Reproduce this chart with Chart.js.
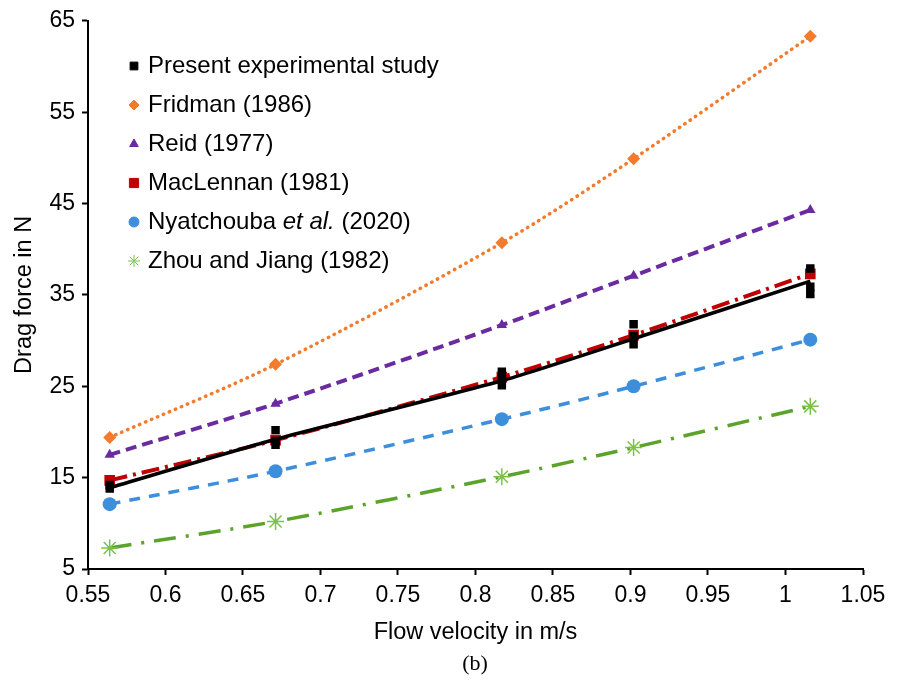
<!DOCTYPE html>
<html>
<head>
<meta charset="utf-8">
<script src="https://cdn.jsdelivr.net/npm/chart.js@4.4.1/dist/chart.umd.min.js"></script>
<style>
  html, body { margin: 0; padding: 0; background: #fff; }
  #wrap { width: 899px; height: 684px; position: relative; }
</style>
</head>
<body>
<div id="wrap"><canvas id="dragChart"></canvas></div>
<script>
// flow velocities (m/s)
const velocity = [0.564, 0.671, 0.817, 0.902, 1.016];

// drag force (N) per model
const fridman = [19.4, 27.4, 40.7, 49.9, 63.3];
const reid = [17.5, 23.1, 31.7, 37.1, 44.3];
const maclennan = [14.7, 19.1, 26.0, 30.6, 37.3];
const nyatchouba = [12.1, 15.7, 21.4, 25.0, 30.1];
const zhou = [7.3, 10.2, 15.1, 18.3, 22.8];

// repeated measurements of the present study, and its fitted line
const expForce = [
    [13.8, 14.2],
    [20.2, 19.0, 18.6],
    [26.6, 25.8, 25.1],
    [31.8, 30.5, 29.6],
    [37.9, 35.9, 35.1]
];
const expTrend = [13.9, 19.2, 25.6, 30.2, 36.5];

const seriesNames = [
    'Present experimental study',
    'Fridman (1986)',
    'Reid (1977)',
    'MacLennan (1981)',
    'Nyatchouba et al. (2020)',
    'Zhou and Jiang (1982)'
];

const xTicks = [0.55, 1.05, 0.05];
const yTicks = [5, 65, 10];

const FONT = "'Liberation Sans', Arial, sans-serif";

function pts(values) {
    return values.map((v, i) => ({ x: velocity[i], y: v }));
}

const expPoints = [];
expForce.forEach((arr, i) => {
    arr.forEach(v => expPoints.push({ x: velocity[i], y: v }));
});

// legend drawn by hand so "et al." can be italic
const legendPlugin = {
    id: 'handLegend',
    afterDatasetsDraw(chart) {
        const ctx = chart.ctx;
        const items = [
            { style: 'rect', r: 5.5, fill: '#000', stroke: '#000' },
            { style: 'rectRot', r: 5, fill: '#f37b2b', stroke: '#f37b2b' },
            { style: 'triangle', r: 5, fill: '#6a2ba0', stroke: '#6a2ba0' },
            { style: 'rect', r: 6.5, fill: '#c00000', stroke: '#c00000' },
            { style: 'circle', r: 5, fill: '#3d8fdc', stroke: '#3d8fdc' },
            { style: 'star', r: 6, fill: '#7cc24a', stroke: '#7cc24a' }
        ];
        const f = '24px ' + FONT;
        ctx.save();
        ctx.textBaseline = 'middle';
        items.forEach((it, i) => {
            const y = 66 + i * 39;
            ctx.fillStyle = it.fill;
            ctx.strokeStyle = it.stroke;
            ctx.lineWidth = 1;
            Chart.helpers.drawPoint(ctx, { pointStyle: it.style, radius: it.r, rotation: 0, borderWidth: 1 }, 134, y);
            ctx.fillStyle = '#000';
            const x = 148;
            const name = seriesNames[i];
            if (name.indexOf('et al.') >= 0) {
                const parts = name.split('et al.');
                ctx.font = f;
                ctx.fillText(parts[0], x, y);
                let w = ctx.measureText(parts[0]).width;
                ctx.font = 'italic ' + f;
                ctx.fillText('et al.', x + w, y);
                w += ctx.measureText('et al.').width;
                ctx.font = f;
                ctx.fillText(parts[1], x + w, y);
            } else {
                ctx.font = f;
                ctx.fillText(name, x, y);
            }
        });
        ctx.font = "22px 'Liberation Serif', 'Times New Roman', serif";
        ctx.textAlign = 'center';
        ctx.fillText('(b)', 475, 664);
        ctx.restore();
    }
};

const ctx = document.getElementById('dragChart').getContext('2d');
new Chart(ctx, {
    type: 'scatter',
    data: {
        datasets: [
            {
                label: 'trend',
                data: pts(expTrend),
                showLine: true,
                borderColor: '#000',
                borderWidth: 3.5,
                pointRadius: 0,
                tension: 0.2
            },
            {
                label: seriesNames[0],
                data: expPoints,
                pointStyle: 'rect',
                pointRadius: 6,
                backgroundColor: '#000',
                borderColor: '#000',
                borderWidth: 0
            },
            {
                label: seriesNames[1],
                data: pts(fridman),
                showLine: true,
                borderColor: '#f37b2b',
                backgroundColor: '#f37b2b',
                borderWidth: 3.5,
                borderDash: [0.5, 6],
                borderCapStyle: 'round',
                pointStyle: 'rectRot',
                pointRadius: 6.5,
                pointBorderWidth: 0,
                tension: 0.3
            },
            {
                label: seriesNames[2],
                data: pts(reid),
                showLine: true,
                borderColor: '#6a2ba0',
                backgroundColor: '#6a2ba0',
                borderWidth: 4,
                borderDash: [11, 6],
                pointStyle: 'triangle',
                pointRadius: 6,
                pointBorderWidth: 0,
                tension: 0.3
            },
            {
                label: seriesNames[3],
                data: pts(maclennan),
                showLine: true,
                borderColor: '#c00000',
                backgroundColor: '#c00000',
                borderWidth: 4,
                borderDash: [18, 6, 3, 6],
                pointStyle: 'rect',
                pointRadius: 7.5,
                pointBorderWidth: 0,
                tension: 0.3
            },
            {
                label: seriesNames[4],
                data: pts(nyatchouba),
                showLine: true,
                borderColor: '#3d8fdc',
                backgroundColor: '#3d8fdc',
                borderWidth: 3.5,
                borderDash: [11, 9],
                pointStyle: 'circle',
                pointRadius: 7,
                pointBorderWidth: 0,
                tension: 0.3
            },
            {
                label: seriesNames[5],
                data: pts(zhou),
                showLine: true,
                borderColor: '#5ca32b',
                backgroundColor: '#7cc24a',
                borderWidth: 3.5,
                borderDash: [22, 10, 3, 10],
                pointStyle: 'star',
                pointRadius: 8.5,
                pointBorderColor: '#7cc24a',
                pointBorderWidth: 1.5,
                tension: 0.3
            }
        ]
    },
    options: {
        responsive: true,
        maintainAspectRatio: false,
        animation: false,
        layout: { padding: { left: 0, top: 20, right: 36, bottom: 0 } },
        plugins: {
            legend: { display: false },
            tooltip: { enabled: false }
        },
        scales: {
            x: {
                type: 'linear',
                min: xTicks[0],
                max: xTicks[1],
                afterFit: function (scale) { scale.height = 115; },
                ticks: {
                    stepSize: xTicks[2],
                    color: '#000',
                    font: { family: FONT, size: 23 },
                    padding: 7,
                    maxRotation: 0,
                    callback: function (v) { return parseFloat(v.toFixed(2)).toString(); }
                },
                grid: { drawOnChartArea: false, color: '#000', tickLength: 6, tickWidth: 2 },
                border: { color: '#000', width: 2 },
                title: {
                    display: true,
                    text: 'Flow velocity in m/s',
                    color: '#000',
                    font: { family: FONT, size: 23.5 },
                    padding: { top: 0, bottom: 37 }
                }
            },
            y: {
                min: yTicks[0],
                max: yTicks[1],
                afterFit: function (scale) { scale.width = 88; },
                ticks: {
                    stepSize: yTicks[2],
                    color: '#000',
                    font: { family: FONT, size: 23 },
                    padding: 7
                },
                grid: { drawOnChartArea: false, color: '#000', tickLength: 6, tickWidth: 2 },
                border: { color: '#000', width: 2 },
                title: {
                    display: true,
                    text: 'Drag force in N',
                    color: '#000',
                    font: { family: FONT, size: 23.5 },
                    padding: { top: 10, bottom: 0 }
                }
            }
        }
    },
    plugins: [legendPlugin]
});
</script>
</body>
</html>
